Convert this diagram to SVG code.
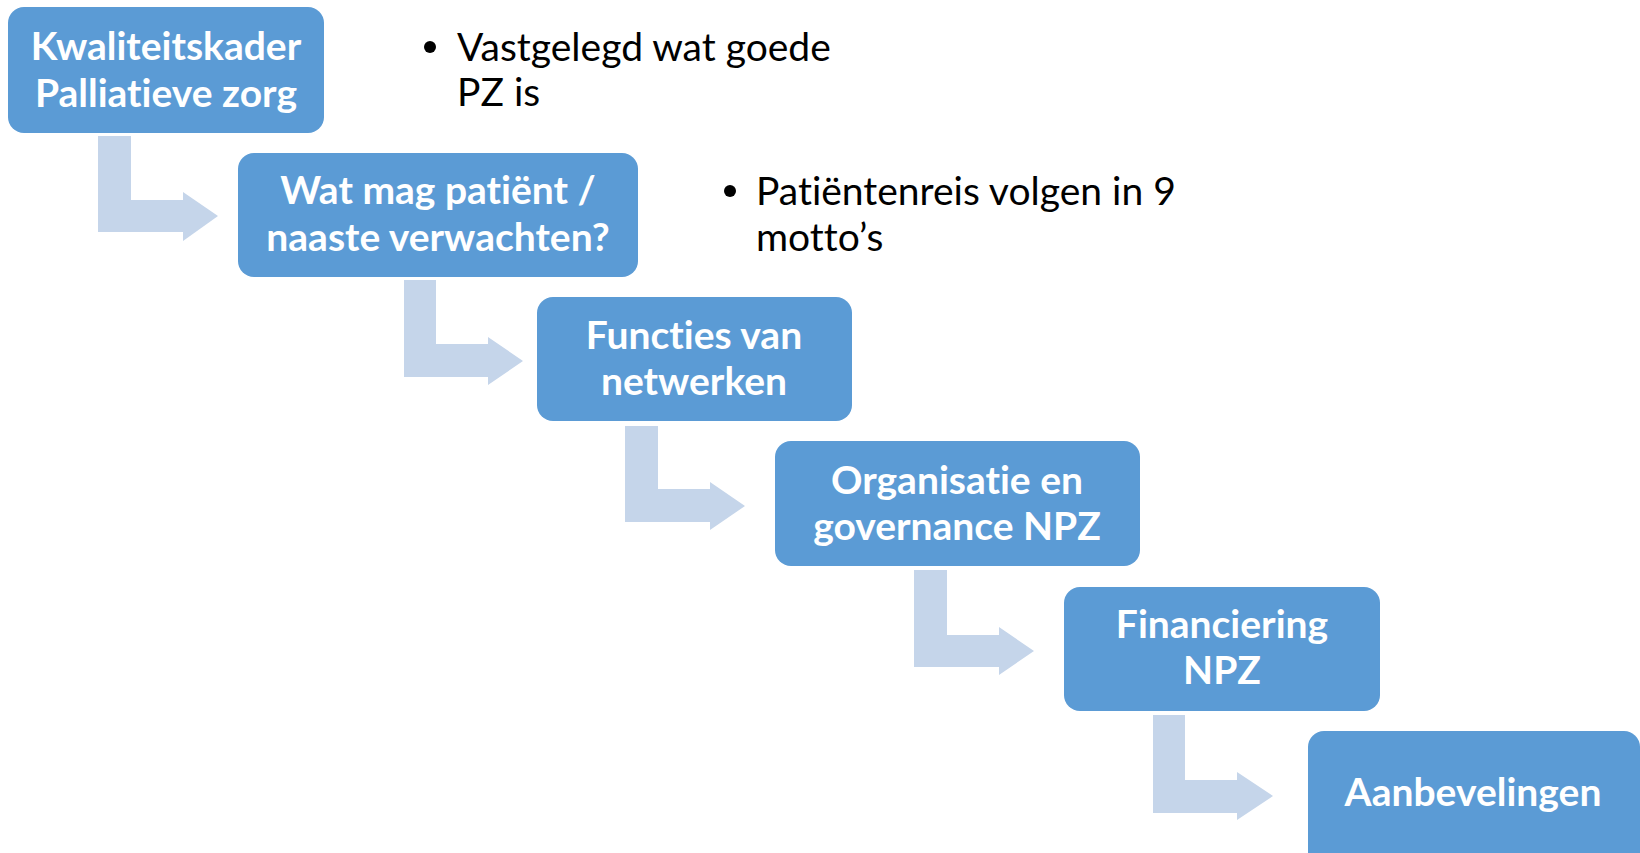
<svg xmlns="http://www.w3.org/2000/svg" width="1640" height="853" viewBox="0 0 1640 853">
<style>
.box{fill:#5B9BD5;}
.arr{fill:#C5D5EA;}
.t{font-family:Lato,"Open Sans","Liberation Sans",sans-serif;font-weight:bold;font-size:39px;fill:#fff;text-anchor:middle;font-variant-ligatures:none;}
.b{font-family:Lato,"Open Sans","Liberation Sans",sans-serif;font-size:39px;fill:#000;font-variant-ligatures:none;}
</style>
<rect width="1640" height="853" fill="#fff"/>
<g id="connectors">
<path class="arr" d="M98,136 H131 V200 H183 V192 L218,216 L183,241 V232 H98 Z"/>
<path class="arr" d="M404,280 H436 V344 H488 V337 L523,361 L488,385 V377 H404 Z"/>
<path class="arr" d="M625,426 H658 V489 H710 V482 L745,506 L710,530 V522 H625 Z"/>
<path class="arr" d="M914,570 H947 V635 H999 V627 L1034,651 L999,675 V667 H914 Z"/>
<path class="arr" d="M1153,715 H1185 V780 H1237 V772 L1273,796 L1237,820 V813 H1153 Z"/>
</g>
<g id="n1"><rect class="box" x="8" y="7" width="316" height="126" rx="16"/>
<text class="t" x="166" y="60">Kwaliteitskader</text><text class="t" x="166" y="107">Palliatieve zorg</text></g>
<g id="n2"><rect class="box" x="238" y="153" width="400" height="124" rx="16"/>
<text class="t" x="438" y="204">Wat mag patiënt /</text><text class="t" x="438" y="251">naaste verwachten?</text></g>
<g id="n3"><rect class="box" x="537" y="297" width="315" height="124" rx="16"/>
<text class="t" x="694" y="349">Functies van</text><text class="t" x="694" y="395">netwerken</text></g>
<g id="n4"><rect class="box" x="775" y="441" width="365" height="125" rx="16"/>
<text class="t" x="957" y="494">Organisatie en</text><text class="t" x="957" y="540">governance NPZ</text></g>
<g id="n5"><rect class="box" x="1064" y="587" width="316" height="124" rx="16"/>
<text class="t" x="1222" y="638">Financiering</text><text class="t" x="1222" y="684">NPZ</text></g>
<g id="n6"><rect class="box" x="1308" y="731" width="332" height="140" rx="16"/>
<text class="t" x="1473" y="806">Aanbevelingen</text></g>
<g id="notes">
<circle cx="430" cy="47" r="6" fill="#000"/>
<text class="b" x="457" y="61">Vastgelegd wat goede</text>
<text class="b" x="457" y="106">PZ is</text>
<circle cx="730" cy="191" r="6" fill="#000"/>
<text class="b" x="756" y="205">Patiëntenreis volgen in 9</text>
<text class="b" x="756" y="251">motto’s</text>
</g>
</svg>
